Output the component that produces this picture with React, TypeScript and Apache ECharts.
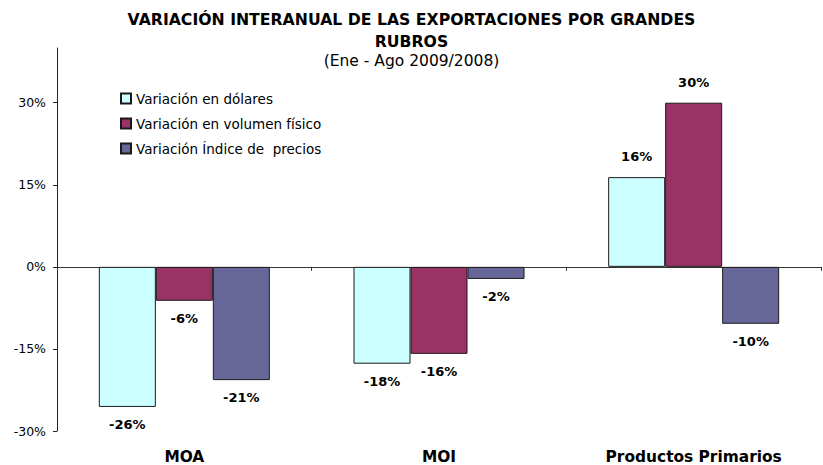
import React, { useEffect, useRef } from "react";
import * as echarts from "echarts";

const categories = ["MOA", "MOI", "Productos Primarios"];
const seriesNames = [
  "Variación en dólares",
  "Variación en volumen físico",
  "Variación Índice de  precios",
];
const dolares = [-25.6, -17.7, 16.4];
const volumen = [-6.2, -15.9, 30.0];
const precios = [-20.7, -2.2, -10.4];
const yTicks = [-30, -15, 0, 15, 30];

const colors = ["#CCFFFF", "#993366", "#666699"];
const FONT = "DejaVu Sans";

export default function App() {
  const ref = useRef<HTMLDivElement>(null);
  useEffect(() => {
    if (!ref.current) return;
    const chart = echarts.init(ref.current, undefined, { renderer: "svg" });
    const allValues = [dolares, volumen, precios];
    const series = allValues.map((vals, i) => ({
      name: seriesNames[i],
      type: "bar",
      xAxisIndex: 0,
      barWidth: 57,
      barGap: "0%",
      itemStyle: { color: colors[i], borderColor: "#1a1a1a", borderWidth: 1 },
      data: vals.map((v) => ({
        value: v,
        label: { position: v >= 0 ? "top" : "bottom", distance: v >= 0 ? 14 : 11 },
      })),
      label: {
        show: true,
        fontFamily: FONT,
        fontWeight: "bold",
        fontSize: 13,
        color: "#000",
        formatter: (p: any) => `${Math.round(p.value)}%`,
      },
    }));
    chart.setOption({
      animation: false,
      backgroundColor: "#fff",
      title: {
        text: "VARIACIÓN INTERANUAL DE LAS EXPORTACIONES POR GRANDES\nRUBROS",
        subtext: "(Ene - Ago 2009/2008)",
        left: "center",
        top: 8,
        padding: 0,
        itemGap: 0,
        textStyle: {
          fontFamily: FONT,
          fontWeight: "bold",
          fontSize: 15.7,
          lineHeight: 22,
          color: "#000",
        },
        subtextStyle: {
          fontFamily: FONT,
          fontSize: 15.5,
          lineHeight: 18,
          color: "#000",
        },
      },
      legend: {
        orient: "vertical",
        left: 120,
        top: 91,
        padding: 0,
        itemWidth: 10,
        itemHeight: 10,
        itemGap: 10,
        icon: "rect",
        textStyle: { fontFamily: FONT, fontSize: 13.5, color: "#000", lineHeight: 15 },
        data: seriesNames,
      },
      grid: { left: 57, right: 2, top: 48, bottom: 34, containLabel: false },
      xAxis: [
        {
          type: "category",
          data: categories,
          position: "bottom",
          axisLine: { show: false, onZero: false },
          axisTick: { show: false },
          axisLabel: {
            margin: 18,
            fontFamily: FONT,
            fontWeight: "bold",
            fontSize: 15.4,
            color: "#000",
          },
        },
        {
          type: "category",
          data: categories,
          position: "bottom",
          axisLine: { show: true, onZero: true, lineStyle: { color: "#333", width: 1 } },
          axisTick: { show: true, length: 4, lineStyle: { color: "#333" } },
          axisLabel: { show: false },
        },
      ],
      yAxis: {
        type: "value",
        min: -30,
        max: 40,
        interval: 15,
        splitLine: { show: false },
        axisLine: { show: true, lineStyle: { color: "#222", width: 1 } },
        axisTick: { show: true, length: 4, customValues: yTicks, lineStyle: { color: "#222" } },
        axisLabel: {
          customValues: yTicks,
          margin: 11,
          fontFamily: FONT,
          fontSize: 12.5,
          color: "#000",
          formatter: (v: number) => `${v}%`,
        },
      },
      series,
    });
    return () => chart.dispose();
  }, []);
  return (
    <div
      ref={ref}
      style={{ position: "fixed", left: 0, top: 0, width: 823, height: 465 }}
    />
  );
}
